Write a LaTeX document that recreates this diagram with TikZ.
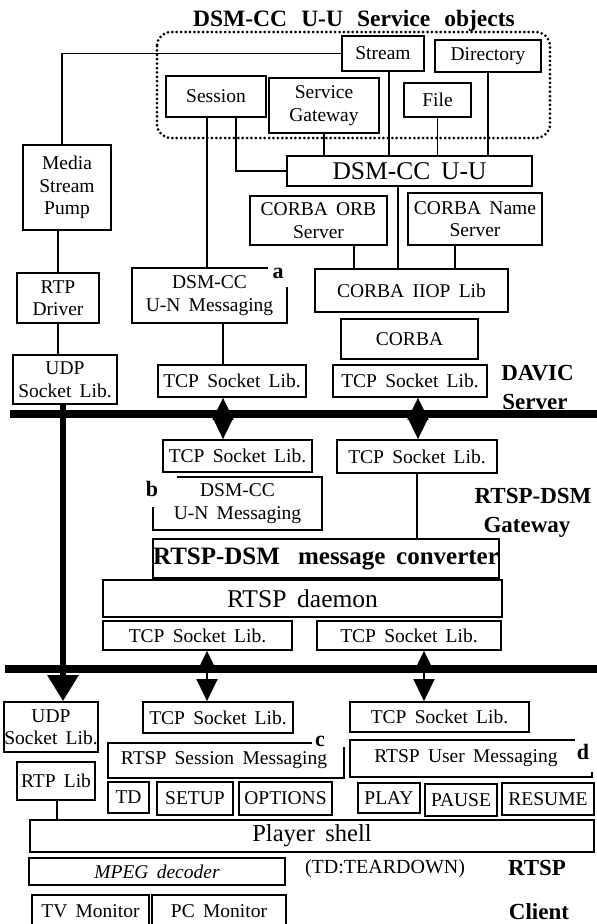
\documentclass[tikz,border=0pt]{standalone}
\usepackage{fontspec}
\setmainfont[WordSpace=1.7]{Liberation Serif}
\usetikzlibrary{arrows.meta}

\begin{document}
\begin{tikzpicture}[x=1pt,y=-1pt,
  wh/.style 2 args={minimum width=#1pt, minimum height=#2pt},
  box/.style={draw, line width=1.8pt, fill=white, inner sep=0pt, align=center,
              font=\fontsize{19.5}{22.5}\selectfont},
  bare/.style={inner sep=0pt, align=center, font=\fontsize{19.5}{22.5}\selectfont},
  frame/.style={line width=1.8pt},
  wire/.style={line width=1.6pt},
  bus/.style={line width=8pt},
  tag/.style={inner sep=0pt, font=\fontsize{22}{22}\selectfont\bfseries},
  lbl/.style={inner sep=0pt, anchor=base, font=\fontsize{23}{23}\selectfont\bfseries},
  link/.style={line width=1.6pt,
    {Triangle[length=22pt,width=21pt]}-{Triangle[length=22pt,width=21pt]}},
  pipe/.style={line width=6pt, -{Triangle[length=26pt,width=30pt]}},
]
\useasboundingbox (0,0) rectangle (597,924);
\fill[white] (0,0) rectangle (597,924);

% ---------- DSM-CC U-U service objects ----------
\draw[line width=3pt, dash pattern=on 0pt off 4.4pt, line cap=round, rounded corners=14pt]
  (157,32) rectangle (550,138);
\node[inner sep=0pt, anchor=base, font=\fontsize{23.5}{23.5}\selectfont\bfseries] (title) at (354,26)
  {DSM-CC\hspace{0.6em}U-U\hspace{0.6em}Service\hspace{0.6em}objects};

\node[box, wh={100}{41}] (session) at (216,96.5) {Session};
\node[box, wh={110}{55}] (sgw) at (324,105.5) {Service\\Gateway};
\node[box, wh={82}{35}] (stream) at (383,53.5) {Stream};
\node[box, wh={106}{32}] (dir) at (488,56) {Directory};
\node[box, wh={67}{34}] (file) at (437.5,100) {File};
\node[box, wh={245}{30}, font=\fontsize{25.5}{25.5}\selectfont] (uu) at (409.5,171) {DSM-CC U-U};

% ---------- DAVIC server ----------
\node[box, wh={88}{85}] (pump) at (67,187.5) {Media\\Stream\\Pump};
\node[box, wh={137}{49}] (orb) at (318.5,220.5) {CORBA ORB\\Server};
\node[box, wh={134}{52}] (name) at (475,219) {CORBA Name\\Server};
\node[box, wh={82}{50}] (rtpd) at (58,298) {RTP\\Driver};
\node[bare, wh={155}{55}] (amsg) at (209.5,295.5) {DSM-CC\\U-N Messaging};
\node[box, wh={193}{43}] (iiop) at (411.5,290.5) {CORBA IIOP Lib};
\node[box, wh={137}{40}] (corba) at (409.5,339) {CORBA};
\node[box, wh={104}{49}] (udps) at (65,379.5) {UDP\\Socket Lib.};
\node[box, wh={148}{32}] (tcpsl) at (232,381) {TCP Socket Lib.};
\node[box, wh={154}{32}] (tcpsr) at (410,381) {TCP Socket Lib.};
\node[lbl] (davic) at (537.5,380) {DAVIC};
\node[lbl] (davicsrv) at (535,409) {Server};
\node[tag] (taga) at (278,273) {a};

% ---------- RTSP-DSM gateway ----------
\node[box, wh={149}{32}] (tcpgl) at (237.5,456) {TCP Socket Lib.};
\node[box, wh={160}{33}] (tcpgr) at (417,456.5) {TCP Socket Lib.};
\node[bare, wh={169}{53}] (bmsg) at (237.5,503.5) {DSM-CC\\U-N Messaging};
\node[box, wh={342}{39}, font=\fontsize{25}{25}\selectfont\bfseries] (conv) at (326,558.5)
  {RTSP-DSM\hspace{0.3em} message converter};
\node[box, wh={399}{37}, font=\fontsize{25.5}{25.5}\selectfont] (daemon) at (302.5,598.5) {RTSP daemon};
\node[box, wh={189}{29}] (tcpbl) at (197.5,635.5) {TCP Socket Lib.};
\node[box, wh={184}{29}] (tcpbr) at (409,635.5) {TCP Socket Lib.};
\node[lbl] (gwtop) at (533,503) {RTSP-DSM};
\node[lbl] (gwbot) at (527,532) {Gateway};
\node[tag] (tagb) at (152,489) {b};

% ---------- RTSP client ----------
\node[box, wh={92}{50}] (udpc) at (51,727) {UDP\\Socket Lib.};
\node[box, wh={78}{38}] (rtpl) at (56,781) {RTP Lib};
\node[box, wh={150}{31}] (tcpcl) at (218,717.5) {TCP Socket Lib.};
\node[box, wh={179}{30}] (tcpcr) at (439.5,717) {TCP Socket Lib.};
\node[bare, wh={236}{35}] (cmsg) at (224,760.5) {RTSP Session Messaging};
\node[bare, wh={242}{37}] (dmsg) at (466,758.5) {RTSP User Messaging};
\node[tag] (tagc) at (320,741) {c};
\node[tag] (tagd) at (583,752) {d};
\node[box, wh={41}{31}] (td) at (128.5,797.5) {TD};
\node[box, wh={76}{33}] (setup) at (195,798.5) {SETUP};
\node[box, wh={93}{33}] (options) at (285.5,798.5) {OPTIONS};
\node[box, wh={62}{30}] (play) at (389,798) {PLAY};
\node[box, wh={72}{32}] (pause) at (461,800) {PAUSE};
\node[box, wh={92}{32}] (resume) at (548,799) {RESUME};
\node[box, wh={564}{32}, font=\fontsize{24.5}{24.5}\selectfont] (player) at (312,836) {Player shell};
\node[box, wh={256}{27}, font=\fontsize{19.5}{22}\selectfont\itshape] (mpeg) at (157,871.5) {MPEG decoder};
\node[box, wh={117}{32}] (tv) at (90.5,911) {TV Monitor};
\node[box, wh={134}{32}] (pc) at (219,911) {PC Monitor};
\node[bare, font=\fontsize{20}{22}\selectfont] (tdnote) at (385,869) {(TD:TEARDOWN)};
\node[lbl] (clienttop) at (537,875) {RTSP};
\node[lbl] (clientbot) at (539,919) {Client};

% ---------- open-cornered message boxes ----------
\draw[frame] ([xshift=-19pt]amsg.north east) -- (amsg.north west) -- (amsg.south west)
  -- (amsg.south east) -- ([yshift=-19pt]amsg.north east);
\draw[frame] ([xshift=24pt]bmsg.north west) -- (bmsg.north east) -- (bmsg.south east)
  -- (bmsg.south west) -- ([yshift=-30pt]bmsg.north west);
\coordinate (cnw) at (108,743);
\coordinate (cse) at (344,778);
\draw[frame] (312,743) -- (cnw) |- (cse) -- (344,747);
\coordinate (dnw) at (350,740);
\coordinate (dse) at (592,777);
\draw[frame] (575,740) -- (dnw) |- (dse) -- (592,772);

% ---------- vertical guides for connectors ----------
\coordinate (g57) at (57,0);
\coordinate (g58) at (58,0);
\coordinate (g62) at (62,0);
\coordinate (g63) at (63,0);
\coordinate (g207) at (207,0);
\coordinate (g223) at (223,0);
\coordinate (g236) at (236,0);
\coordinate (g354) at (354,0);
\coordinate (g389) at (389,0);
\coordinate (g398) at (398,0);
\coordinate (g417) at (417,0);
\coordinate (g418) at (418,0);
\coordinate (g424) at (424,0);
\coordinate (g455) at (455,0);

% ---------- connectors ----------
\draw[wire] (g62 |- pump.north) |- (stream.west);
\draw[wire] (g207 |- session.south) -- (g207 |- amsg.north);
\draw[wire] (g236 |- session.south) |- (uu.west);
\draw[wire] (sgw.south) -- (sgw.south |- uu.north);
\draw[wire] (g389 |- stream.south) -- (g389 |- uu.north);
\draw[wire] (file.south) -- (file.south |- uu.north);
\draw[wire] (dir.south) -- (dir.south |- uu.north);
\draw[wire] (g398 |- uu.south) -- (g398 |- iiop.north);
\draw[wire] (g354 |- orb.south) -- (g354 |- iiop.north);
\draw[wire] (g455 |- name.south) -- (g455 |- iiop.north);
\draw[wire] (g58 |- pump.south) -- (g58 |- rtpd.north);
\draw[wire] (g58 |- rtpd.south) -- (g58 |- udps.north);
\draw[wire] (g223 |- amsg.south) -- (g223 |- tcpsl.north);
\draw[wire] (g417 |- tcpgr.south) -- (g417 |- conv.north);
\draw[wire] (g57 |- rtpl.south) -- (g57 |- player.north);

% ---------- network buses ----------
\coordinate (bus1l) at (10,414);
\coordinate (bus1r) at (597,414);
\coordinate (bus2l) at (5,669);
\coordinate (bus2r) at (597,669);
\draw[bus] (bus1l) -- (bus1r);
\draw[bus] (bus2l) -- (bus2r);

\draw[link] (g223 |- tcpsl.south) -- (g223 |- tcpgl.north);
\draw[link] (g418 |- tcpsr.south) -- (g418 |- tcpgr.north);
\draw[link] (g207 |- tcpbl.south) -- (g207 |- tcpcl.north);
\draw[link] (g424 |- tcpbr.south) -- (g424 |- tcpcr.north);
\draw[pipe] (g63 |- udps.south) -- (g63 |- udpc.north);
\end{tikzpicture}
\end{document}
